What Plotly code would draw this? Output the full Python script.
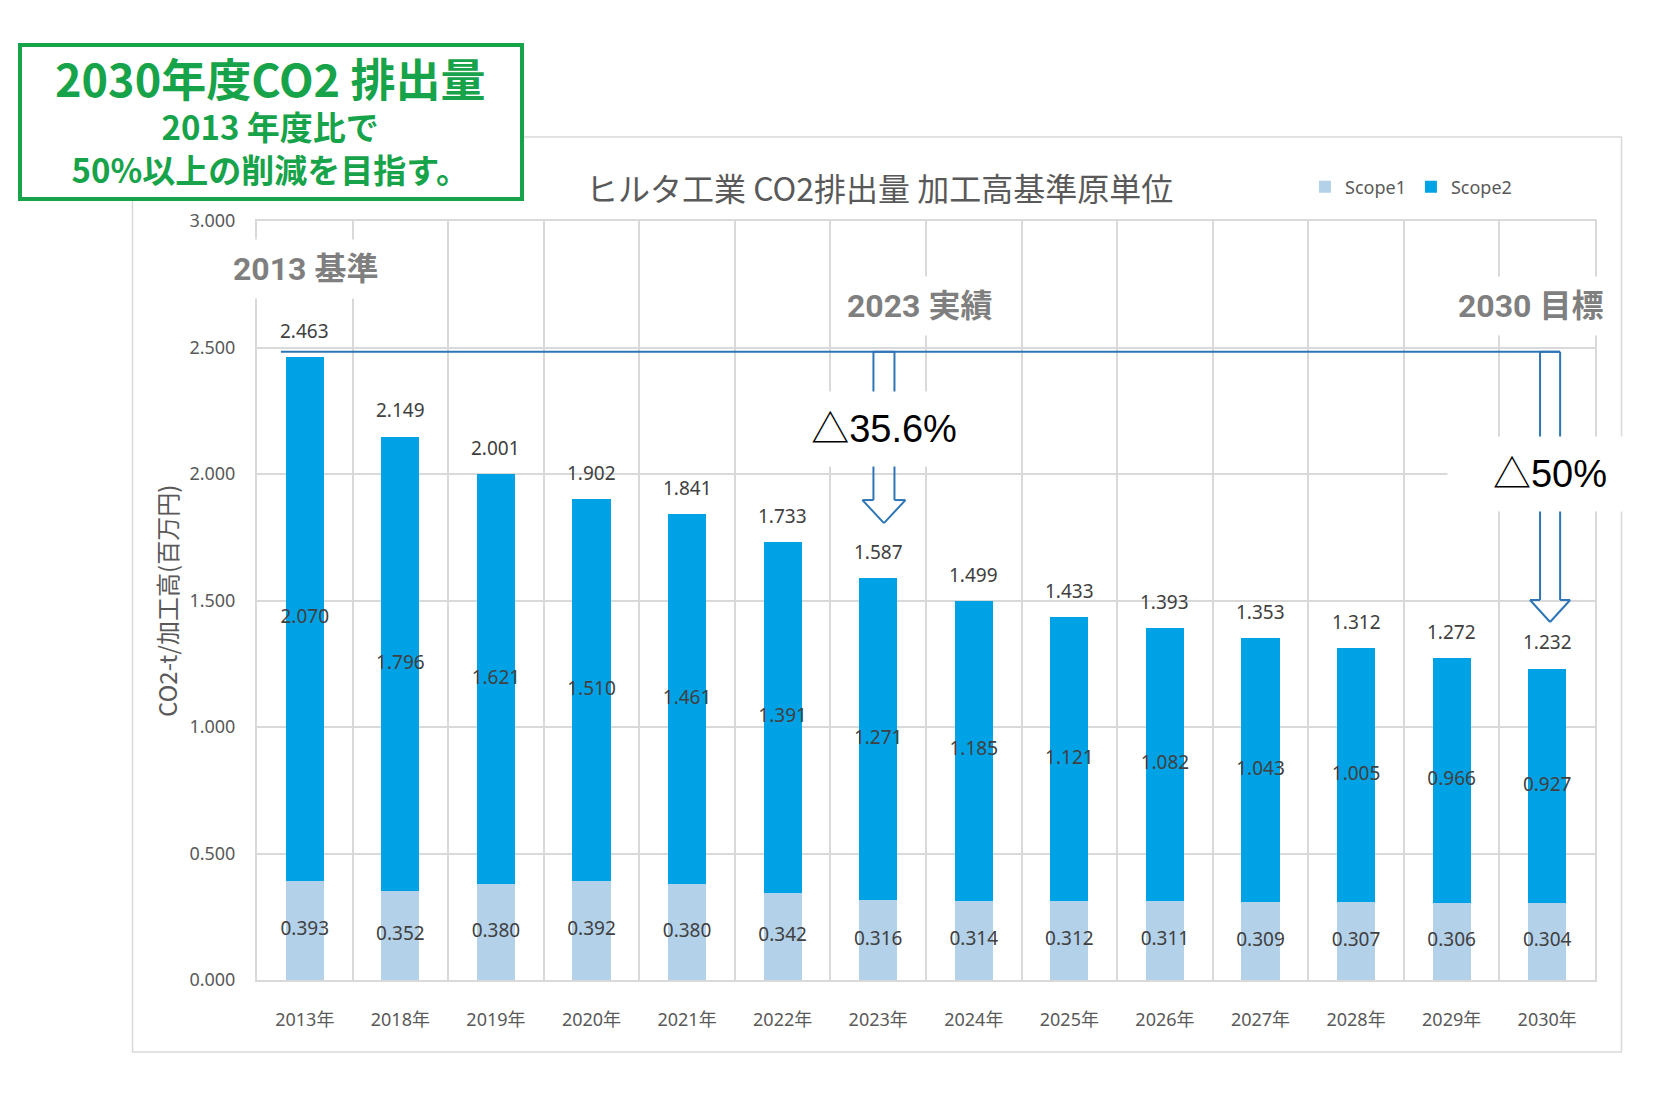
import plotly.graph_objects as go

# ---------------- data ----------------
years = ["2013年", "2018年", "2019年", "2020年", "2021年", "2022年", "2023年",
         "2024年", "2025年", "2026年", "2027年", "2028年", "2029年", "2030年"]
scope1 = [0.393, 0.352, 0.380, 0.392, 0.380, 0.342, 0.316,
          0.314, 0.312, 0.311, 0.309, 0.307, 0.306, 0.304]
scope2 = [2.070, 1.796, 1.621, 1.510, 1.461, 1.391, 1.271,
          1.185, 1.121, 1.082, 1.043, 1.005, 0.966, 0.927]
totals = [2.463, 2.149, 2.001, 1.902, 1.841, 1.733, 1.587,
          1.499, 1.433, 1.393, 1.353, 1.312, 1.272, 1.232]
y_ticks = [0.0, 0.5, 1.0, 1.5, 2.0, 2.5, 3.0]
reduction_labels = ["△35.6%", "△50%"]
milestone_labels = ["2013 基準", "2023 実績", "2030 目標"]
chart_title = "ヒルタ工業 CO2排出量 加工高基準原単位"
y_title = "CO2-t/加工高(百万円)"
goal_lines = ["2030年度CO2 排出量", "2013 年度比で", "50%以上の削減を目指す。"]

# ---------------- styling ----------------
W, H = 1676, 1104
L, R, T, B = 257, 1595, 221, 980


def px(x):
    return (x - L) / (R - L)


def py(y):
    return (B - y) / (B - T)


C1 = "#B4D1EA"
C2 = "#00A2E6"
GRID = "#D9D9D9"
TXT = "#404040"
AX = "#595959"
BLUE = "#2E75B6"
GREEN = "#17A34A"
NUM = "Noto Sans, Noto Sans CJK JP, sans-serif"
CJK = "Noto Sans CJK JP, Noto Sans, sans-serif"
NARROW = "Liberation Sans Narrow, Roboto, Noto Sans CJK JP, sans-serif"
ARIAL = "Liberation Sans, Arial, Noto Sans CJK JP, sans-serif"

fig = go.Figure()
fig.add_bar(x=years, y=scope1, name="Scope1", marker=dict(color=C1, line=dict(width=0)),
            hoverinfo="skip")
fig.add_bar(x=years, y=scope2, name="Scope2", marker=dict(color=C2, line=dict(width=0)),
            hoverinfo="skip")

mid1 = [v / 2 for v in scope1]
mid2 = [a + b / 2 for a, b in zip(scope1, scope2)]
fig.add_scatter(x=years, y=mid1, mode="text", text=[f"{v:.3f}" for v in scope1],
                textfont=dict(size=19, color=TXT, family=NUM), showlegend=False,
                cliponaxis=False, hoverinfo="skip")
fig.add_scatter(x=years, y=mid2, mode="text", text=[f"{v:.3f}" for v in scope2],
                textfont=dict(size=19, color=TXT, family=NUM), showlegend=False,
                cliponaxis=False, hoverinfo="skip")

annotations = []
for yr, t in zip(years, totals):
    annotations.append(dict(x=yr, y=t, xref="x", yref="y", text=f"{t:.3f}",
                            showarrow=False, xanchor="center", yanchor="bottom", yshift=11,
                            font=dict(size=19, color=TXT, family=NUM)))

# ---------------- reduction arrows ----------------
shapes = []
i23 = years.index("2023年")
i30 = years.index("2030年")
base_y = totals[0] + 0.02
a23 = i23 + 0.06
a30 = i30 + 0.03


def arrow(xc, ytop, yhead, ytip, hs, hh):
    segs = [
        (xc - hs, ytop, xc - hs, yhead),
        (xc + hs, ytop, xc + hs, yhead),
        (xc - hs, ytop, xc + hs, ytop),
        (xc - hs, yhead, xc - hh, yhead),
        (xc + hs, yhead, xc + hh, yhead),
        (xc - hh, yhead, xc, ytip),
        (xc + hh, yhead, xc, ytip),
    ]
    for x0, y0, x1, y1 in segs:
        shapes.append(dict(type="line", xref="x", yref="y", x0=x0, y0=y0, x1=x1, y1=y1,
                           line=dict(color=BLUE, width=2), layer="above"))


# baseline
shapes.append(dict(type="line", xref="x", yref="y", x0=-0.25, x1=a30 + 0.105,
                   y0=base_y, y1=base_y, line=dict(color=BLUE, width=2), layer="above"))
arrow(a23, base_y, 1.897, 1.806, 0.11, 0.225)
arrow(a30, base_y, 1.502, 1.415, 0.105, 0.21)

annotations.append(dict(x=a23, y=2.179, xref="x", yref="y", text=reduction_labels[0],
                        showarrow=False, xanchor="center", yanchor="middle",
                        bgcolor="white", width=152, height=46, borderpad=14,
                        font=dict(size=38, color="black", family=ARIAL)))
annotations.append(dict(x=a30, y=2.0, xref="x", yref="y", text=reduction_labels[1],
                        showarrow=False, xanchor="center", yanchor="middle",
                        bgcolor="white", width=176, height=46, borderpad=14,
                        font=dict(size=38, color="black", family=ARIAL)))

# milestone labels
for lbl, (mx, my) in zip(milestone_labels, [(305, 269), (919, 306), (1530, 306)]):
    annotations.append(dict(x=px(mx), y=py(my), xref="paper", yref="paper",
                            xanchor="center", yanchor="middle",
                            text=f"<b>{lbl}</b>", showarrow=False, bgcolor="white",
                            borderpad=10, font=dict(size=32, color="#7F7F7F", family=NARROW)))

# chart title
annotations.append(dict(x=px(879), y=py(187), xref="paper", yref="paper", text=chart_title,
                        xanchor="center", yanchor="middle",
                        showarrow=False, font=dict(size=32, color=AX, family=CJK)))
# y axis title
annotations.append(dict(x=px(166), y=py(601), xref="paper", yref="paper", text=y_title,
                        xanchor="center", yanchor="middle",
                        textangle=-90, showarrow=False, font=dict(size=24, color=AX, family=CJK)))

# outer chart frame
shapes.insert(0, dict(type="rect", xref="paper", yref="paper",
                      x0=px(132.5), x1=px(1621.5), y0=py(1052), y1=py(137),
                      line=dict(color=GRID, width=1.5), fillcolor="rgba(0,0,0,0)", layer="below"))
# green goal box
shapes.append(dict(type="rect", xref="paper", yref="paper",
                   x0=px(20), x1=px(522), y0=py(199), y1=py(45),
                   line=dict(color=GREEN, width=4), fillcolor="white", layer="above"))
goal_text = ("<b><span style='font-size:45px'>" + goal_lines[0] + "</span><br>"
             + goal_lines[1] + "<br>" + goal_lines[2] + "</b>")
annotations.append(dict(x=px(270), y=py(119), xref="paper", yref="paper",
                        xanchor="center", yanchor="middle", align="center",
                        text=goal_text, showarrow=False,
                        font=dict(size=33, color=GREEN, family=CJK)))

fig.update_layout(
    width=W, height=H,
    margin=dict(l=L, r=W - R, t=T, b=H - B, autoexpand=False),
    paper_bgcolor="white", plot_bgcolor="white",
    barmode="stack", bargap=0.6,
    showlegend=True,
    legend=dict(orientation="h", x=px(1305), y=py(187), xanchor="left", yanchor="middle",
                font=dict(size=18, color=AX, family=NUM), itemwidth=30,
                bgcolor="rgba(0,0,0,0)", traceorder="normal"),
    xaxis=dict(type="category", range=[-0.5, len(years) - 0.5], autorange=False,
               tickson="boundaries", showgrid=True, gridcolor=GRID,
               gridwidth=2, showline=True, linecolor=GRID, linewidth=2, mirror=True,
               ticks="", tickfont=dict(size=18, color=AX, family=NUM),
               ticklabelstandoff=22, fixedrange=True),
    yaxis=dict(range=[0, 3], autorange=False, tickvals=y_ticks, tickformat=".3f", showgrid=True,
               gridcolor=GRID, gridwidth=2, showline=True, linecolor=GRID, linewidth=2,
               mirror=True, ticks="", zeroline=False,
               tickfont=dict(size=18, color=AX, family=NUM), ticklabelstandoff=16,
               fixedrange=True),
    shapes=shapes,
    annotations=annotations,
)

fig.write_html("out.html", post_script="document.body.style.margin='0';",
               config={"displayModeBar": False})
